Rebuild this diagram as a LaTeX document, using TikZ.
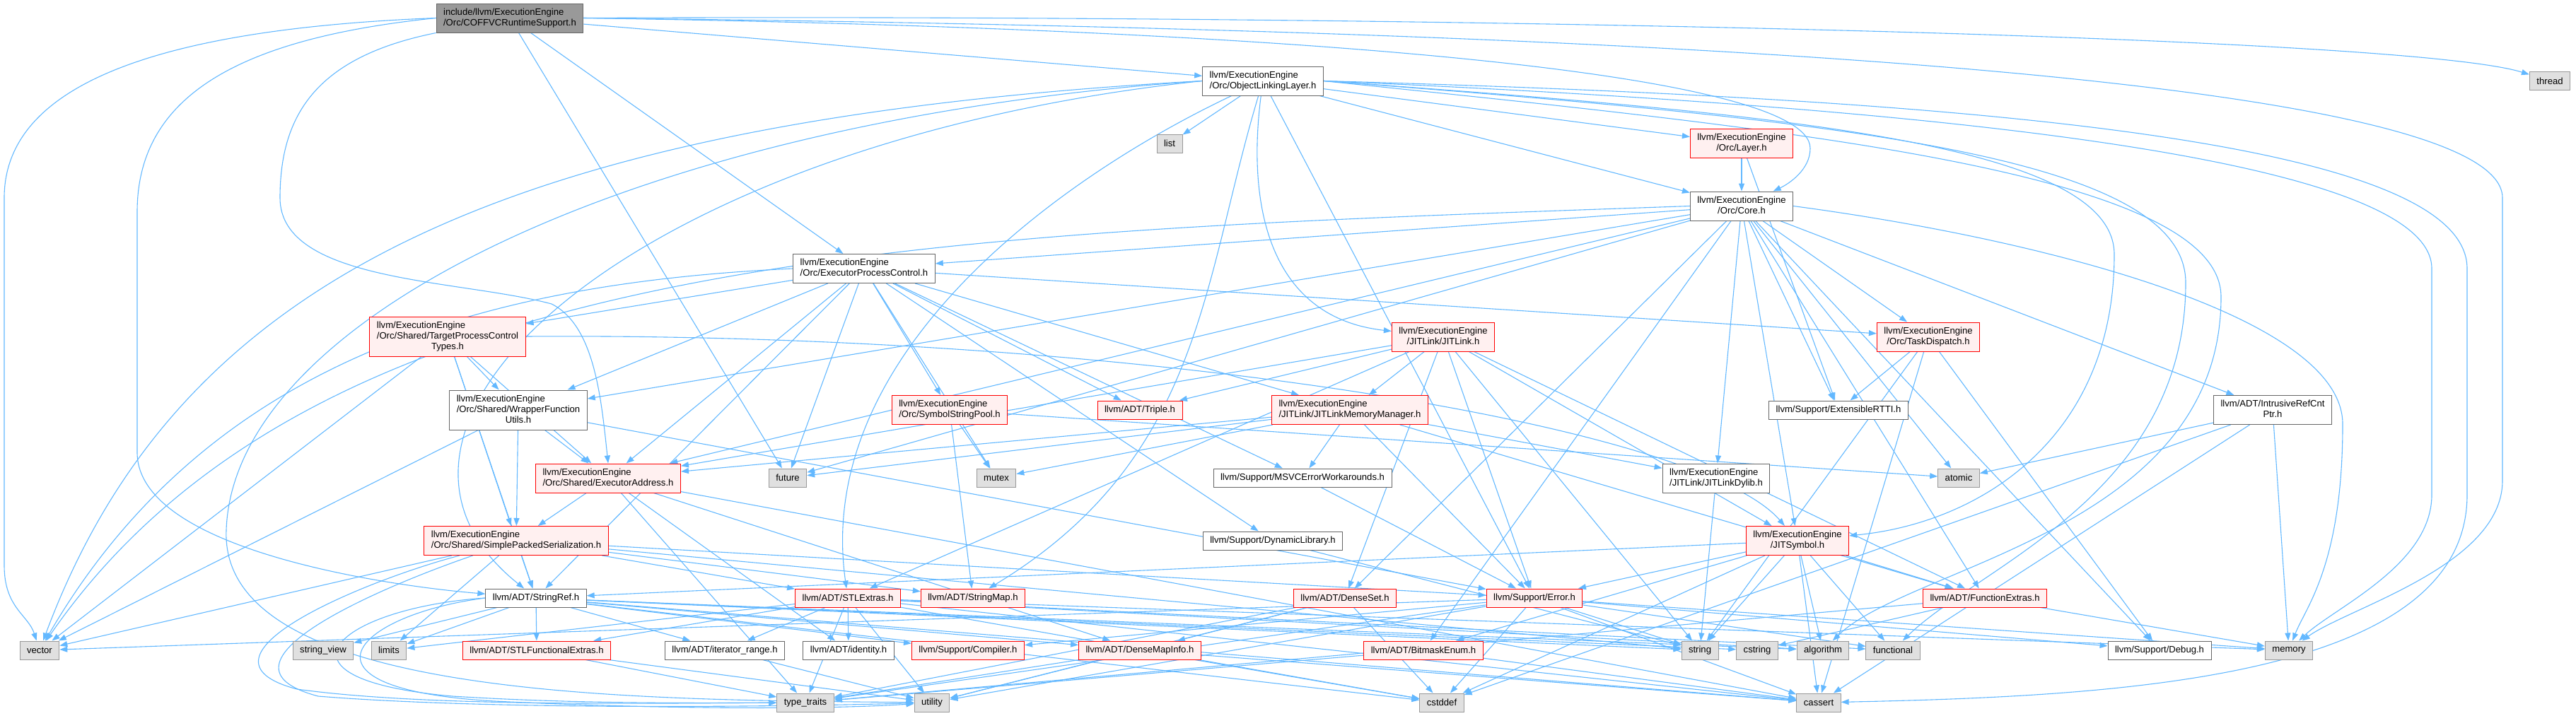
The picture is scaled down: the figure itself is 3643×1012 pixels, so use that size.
\documentclass[tikz,border=0pt]{standalone}
\usepackage{fontspec}
\setmainfont{Liberation Sans}
\usetikzlibrary{arrows.meta}
\definecolor{cedge}{HTML}{63B8FF}
\definecolor{cline}{HTML}{666666}
\definecolor{crootfill}{HTML}{999999}
\definecolor{csysfill}{HTML}{E0E0E0}
\definecolor{csysline}{HTML}{999999}
\definecolor{ctruncfill}{HTML}{FFF0F0}
\definecolor{ctrunc}{HTML}{FF0000}
\pgfdeclarelayer{edges}
\pgfsetlayers{edges,main}
\newcommand{\hdrtwo}[2]{\begin{tabular}{@{}l@{}}#1\\\multicolumn{1}{@{}c@{}}{#2}\end{tabular}}
\newcommand{\hdrthree}[3]{\begin{tabular}{@{}l@{}}#1\\#2\\\multicolumn{1}{@{}c@{}}{#3}\end{tabular}}

\begin{document}
\begin{tikzpicture}[x=1pt, y=-1pt,
  hdr/.style={draw=cline, fill=white, line width=1pt, inner xsep=10pt, inner ysep=0pt,
    minimum height=26pt, font=\fontsize{13.1}{15}\selectfont},
  trunc/.style={hdr, draw=ctrunc, fill=ctruncfill},
  sys/.style={hdr, draw=csysline, fill=csysfill},
  root/.style={hdr, fill=crootfill},
  two/.style={minimum height=41pt},
  three/.style={minimum height=56pt},
  dep/.style={cedge, line width=1.1pt, -{Triangle[length=11pt,width=8pt]}}]
  \useasboundingbox (0,0) rectangle (3643,1012);

  % rank 0-3
  \node[root, two] (cofv) at (721,25.5) {\hdrtwo{include/llvm/ExecutionEngine}{/Orc/COFFVCRuntimeSupport.h}};
  \node[hdr, two] (oll) at (1786,114.5) {\hdrtwo{llvm/ExecutionEngine}{/Orc/ObjectLinkingLayer.h}};
  \node[sys] (thread) at (3606,114.5) {thread};
  \node[sys] (list) at (1654,203) {list};
  \node[trunc, two] (layer) at (2463,203) {\hdrtwo{llvm/ExecutionEngine}{/Orc/Layer.h}};
  \node[hdr, two] (core) at (2463,291.5) {\hdrtwo{llvm/ExecutionEngine}{/Orc/Core.h}};
  \node[hdr, two] (epc) at (1222,380) {\hdrtwo{llvm/ExecutionEngine}{/Orc/ExecutorProcessControl.h}};

  % rank 4-5
  \node[trunc, three] (tpct) at (633,476) {\hdrthree{llvm/ExecutionEngine}{/Orc/Shared/TargetProcessControl}{Types.h}};
  \node[trunc, two] (jitlink) at (2041,476.5) {\hdrtwo{llvm/ExecutionEngine}{/JITLink/JITLink.h}};
  \node[trunc, two] (task) at (2727,476.5) {\hdrtwo{llvm/ExecutionEngine}{/Orc/TaskDispatch.h}};
  \node[hdr, three] (wrap) at (733,580) {\hdrthree{llvm/ExecutionEngine}{/Orc/Shared/WrapperFunction}{Utils.h}};
  \node[trunc, two] (ssp) at (1343,580) {\hdrtwo{llvm/ExecutionEngine}{/Orc/SymbolStringPool.h}};
  \node[trunc] (triple) at (1612,580) {llvm/ADT/Triple.h};
  \node[trunc, two] (jlmm) at (1909,580) {\hdrtwo{llvm/ExecutionEngine}{/JITLink/JITLinkMemoryManager.h}};
  \node[hdr] (rtti) at (2600,580) {llvm/Support/ExtensibleRTTI.h};
  \node[hdr, two] (irc) at (3214,580) {\hdrtwo{llvm/ADT/IntrusiveRefCnt}{Ptr.h}};

  % rank 6-7
  \node[trunc, two] (addr) at (860,676.5) {\hdrtwo{llvm/ExecutionEngine}{/Orc/Shared/ExecutorAddress.h}};
  \node[sys] (future) at (1114,676) {future};
  \node[sys] (mutex) at (1409,676) {mutex};
  \node[hdr] (msvc) at (1842,676) {llvm/Support/MSVCErrorWorkarounds.h};
  \node[hdr, two] (dylib) at (2427,676.5) {\hdrtwo{llvm/ExecutionEngine}{/JITLink/JITLinkDylib.h}};
  \node[sys] (atomic) at (2770,676) {atomic};
  \node[trunc, two] (sps) at (730,765) {\hdrtwo{llvm/ExecutionEngine}{/Orc/Shared/SimplePackedSerialization.h}};
  \node[hdr] (dynlib) at (1800,765) {llvm/Support/DynamicLibrary.h};
  \node[trunc, two] (jitsym) at (2542,765) {\hdrtwo{llvm/ExecutionEngine}{/JITSymbol.h}};

  % rank 8
  \node[hdr] (stringref) at (758,846) {llvm/ADT/StringRef.h};
  \node[trunc] (stlextras) at (1199,846) {llvm/ADT/STLExtras.h};
  \node[trunc] (stringmap) at (1376,846) {llvm/ADT/StringMap.h};
  \node[trunc] (denseset) at (1902,846) {llvm/ADT/DenseSet.h};
  \node[trunc] (error) at (2170,846) {llvm/Support/Error.h};
  \node[trunc] (fextras) at (2807,846) {llvm/ADT/FunctionExtras.h};

  % rank 9
  \node[sys] (vector) at (56,920) {vector};
  \node[sys] (strview) at (457,920) {string\_view};
  \node[sys] (limits) at (550,920) {limits};
  \node[trunc] (stlfe) at (759,920) {llvm/ADT/STLFunctionalExtras.h};
  \node[hdr] (itrange) at (1025,920) {llvm/ADT/iterator\_range.h};
  \node[hdr] (identity) at (1200,920) {llvm/ADT/identity.h};
  \node[trunc] (compiler) at (1369,920) {llvm/Support/Compiler.h};
  \node[trunc] (dmi) at (1612,920) {llvm/ADT/DenseMapInfo.h};
  \node[trunc] (bitmask) at (2013,920) {llvm/ADT/BitmaskEnum.h};
  \node[sys] (string) at (2404,920) {string};
  \node[sys] (cstring) at (2485,920) {cstring};
  \node[sys] (algorithm) at (2578,920) {algorithm};
  \node[sys] (functional) at (2677,920) {functional};
  \node[hdr] (debug) at (3054,920) {llvm/Support/Debug.h};
  \node[sys] (memory) at (3237,920) {memory};

  % rank 10
  \node[sys] (typetraits) at (1139,994) {type\_traits};
  \node[sys] (utility) at (1318,994) {utility};
  \node[sys] (cstddef) at (2039,994) {cstddef};
  \node[sys] (cassert) at (2572,994) {cassert};

  \begin{pgfonlayer}{edges}
  % long routed edges
  \draw[dep] (cofv.west) .. controls (250,40) and (6,110) .. (6,280) -- (6,800) .. controls (6,860) and (40,870) .. (vector);
  \draw[dep] (cofv.west) .. controls (330,55) and (194,140) .. (194,300) -- (194,640) .. controls (194,780) and (560,830) .. (stringref);
  \draw[dep] (cofv.south west) .. controls (450,80) and (396,160) .. (396,280) .. controls (396,400) and (650,395) .. (780,430) .. controls (840,460) and (850,560) .. (addr.north);
  \draw[dep] (cofv.east) .. controls (2000,20) and (3400,50) .. (thread);
  \draw[dep] (cofv.east) .. controls (2200,40) and (3539,100) .. (3539,280) -- (3539,680) .. controls (3539,800) and (3320,860) .. (memory);
  \draw[dep] (cofv.east) .. controls (1800,40) and (2560,100) .. (2560,210) .. controls (2560,240) and (2530,260) .. (core);
  \draw[dep] (oll.east) .. controls (2500,160) and (2990,200) .. (2990,360) .. controls (2990,620) and (2800,740) .. (jitsym);
  \draw[dep] (oll.east) .. controls (2700,150) and (3439,220) .. (3439,380) -- (3439,700) .. controls (3439,800) and (3300,860) .. (memory);
  \draw[dep] (oll.east) .. controls (2800,140) and (3489,200) .. (3489,380) -- (3489,700) .. controls (3489,960) and (3000,985) .. (cassert);
  \draw[dep] (oll.east) .. controls (2600,170) and (3091,220) .. (3091,400) .. controls (3091,700) and (2800,800) .. (functional);
  \draw[dep] (oll.east) .. controls (2500,180) and (3141,240) .. (3141,420) .. controls (3141,750) and (2700,800) .. (algorithm);
  \draw[dep] (oll.west) .. controls (900,170) and (330,450) .. (320,750) .. controls (310,990) and (900,990) .. (utility);
  \draw[dep] (oll.west) .. controls (700,170) and (250,400) .. (vector);
  \draw[dep] (oll.west) .. controls (900,200) and (450,600) .. (stringref);
  \draw[dep] (oll) .. controls (1762,300) and (1800,450) .. (jitlink);
  \draw[dep] (oll) .. controls (1700,400) and (1700,650) .. (stringmap);
  \draw[dep] (oll) .. controls (1500,250) and (1150,500) .. (stlextras);
  \draw[dep] (core.west) .. controls (1300,330) and (450,350) .. (vector);
  \draw[dep] (core.east) .. controls (2900,340) and (3313,450) .. (3313,600) .. controls (3313,800) and (3260,860) .. (memory);
  \draw[dep] (epc.west) .. controls (700,400) and (300,500) .. (vector);
  \draw[dep] (tpct.east) .. controls (1600,470) and (2400,600) .. (jitsym);
  \draw[dep] (sps) .. controls (520,820) and (250,930) .. (420,975) .. controls (600,1000) and (900,995) .. (typetraits);
  \draw[dep] (sps) .. controls (540,830) and (280,940) .. (450,985) .. controls (700,1005) and (1100,1000) .. (utility);
  \draw[dep] (stringref.west) .. controls (480,860) and (360,960) .. (640,985) .. controls (800,995) and (950,995) .. (typetraits);
  \draw[dep] (stringref.west) .. controls (500,870) and (400,975) .. (700,992) .. controls (900,1002) and (1150,1005) .. (utility);

  % direct edges
  \foreach \dst in {future,epc,oll} \draw[dep] (cofv) -- (\dst);
  \foreach \dst in {list,layer,core,error} \draw[dep] (oll) -- (\dst);
  \foreach \dst in {core,rtti} \draw[dep] (layer) -- (\dst);
  \foreach \dst in {bitmask,denseset,fextras,irc,dylib,jitsym,epc,addr,wrap,task,debug,rtti,atomic,future}
    \draw[dep] (core) -- (\dst);
  \foreach \dst in {tpct,stringref,addr,wrap,future,mutex,ssp,triple,jlmm,task,dynlib,msvc}
    \draw[dep] (epc) -- (\dst);
  \foreach \dst in {wrap,addr,sps,stringref,vector} \draw[dep] (tpct) -- (\dst);
  \foreach \dst in {triple,jlmm,jitsym,addr,denseset,fextras,stlextras,error,string}
    \draw[dep] (jitlink) -- (\dst);
  \foreach \dst in {fextras,dylib,addr,error,msvc,future,mutex} \draw[dep] (jlmm) -- (\dst);
  \foreach \dst in {addr,sps,error,vector} \draw[dep] (wrap) -- (\dst);
  \foreach \dst in {stringmap,mutex,atomic} \draw[dep] (ssp) -- (\dst);
  \foreach \dst in {sps,dmi,identity,cassert,typetraits} \draw[dep] (addr) -- (\dst);
  \foreach \dst in {stringref,limits,vector,stlextras,stringmap,error,string}
    \draw[dep] (sps) -- (\dst);
  \foreach \dst in {dmi,stlfe,itrange,compiler,algorithm,cassert,cstddef,cstring,limits,string,strview}
    \draw[dep] (stringref) -- (\dst);
  \foreach \dst in {stlfe,identity,itrange,algorithm,cassert,cstddef,functional,limits,memory,typetraits,utility}
    \draw[dep] (stlextras) -- (\dst);
  \foreach \dst in {dmi,typetraits,cstddef,utility} \draw[dep] (denseset) -- (\dst);
  \foreach \dst in {compiler,debug,cassert,functional,memory,string,typetraits,utility,vector,cstddef}
    \draw[dep] (error) -- (\dst);
  \foreach \dst in {algorithm,cassert,cstddef,functional,string,bitmask,fextras,stringref,error}
    \draw[dep] (jitsym) -- (\dst);
  \foreach \dst in {cstring,memory,typetraits} \draw[dep] (fextras) -- (\dst);
  \foreach \dst in {cassert,cstddef,typetraits,utility} \draw[dep] (dmi) -- (\dst);
  \foreach \dst in {cassert,typetraits} \draw[dep] (bitmask) -- (\dst);
  \foreach \dst in {typetraits,utility} \draw[dep] (stlfe) -- (\dst);
  \draw[dep] (itrange) -- (utility);
  \foreach \dst in {atomic,memory,cassert,cstddef} \draw[dep] (irc) -- (\dst);
  \foreach \dst in {rtti,debug,string,cassert} \draw[dep] (task) -- (\dst);
  \draw[dep] (dylib) -- (string);
  \draw[dep] (msvc) -- (error);
  \draw[dep] (dynlib) -- (string);
  \end{pgfonlayer}
\end{tikzpicture}
\end{document}
